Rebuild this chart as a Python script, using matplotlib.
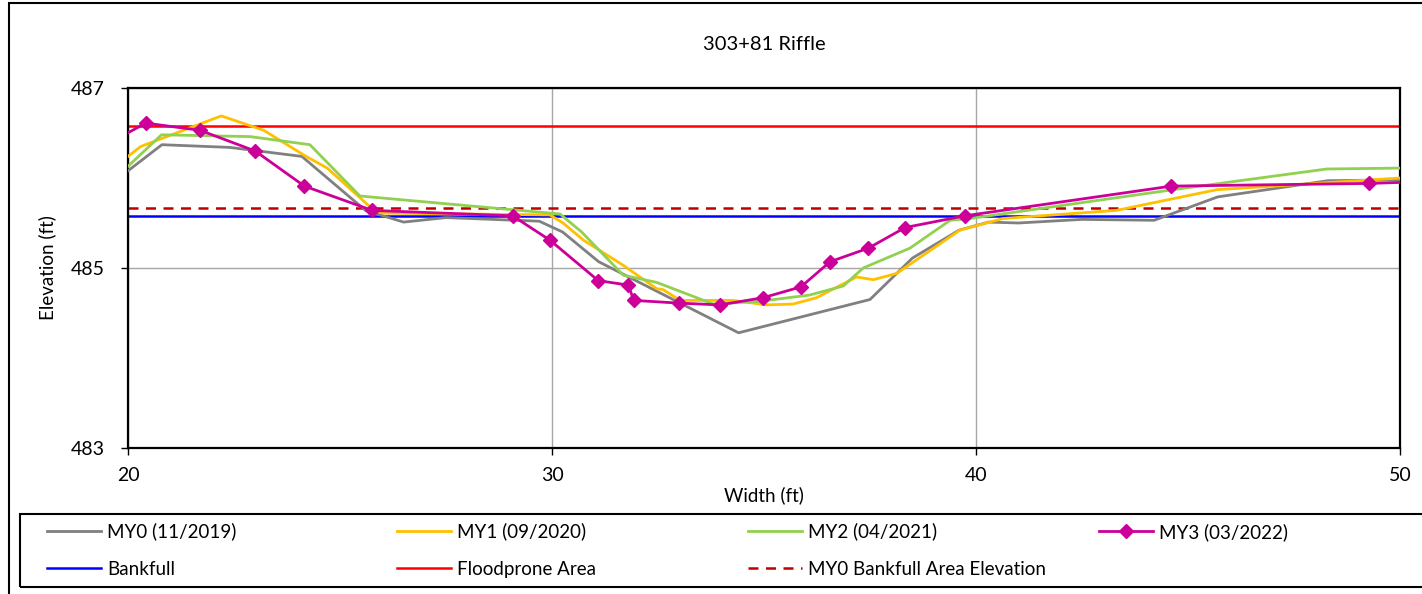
import matplotlib
matplotlib.use("Agg")
import matplotlib.pyplot as plt
import matplotlib.patches as patches

plt.rcParams['font.family'] = ['Lato', 'DejaVu Sans']

# survey data (width ft, elevation ft)
my0_x = [20.0, 20.8, 22.4, 24.1, 25.6, 26.5, 27.5, 29.7, 30.25, 31.1, 34.4, 37.5,
         38.5, 39.6, 40.3, 41.0, 42.5, 44.2, 45.7, 48.3, 50.0]
my0_y = [486.08, 486.37, 486.34, 486.24, 485.64, 485.51, 485.56, 485.52, 485.40, 485.07,
         484.28, 484.65, 485.11, 485.42, 485.51, 485.50, 485.54, 485.53, 485.79, 485.97, 485.98]

my1_x = [20.0, 20.3, 22.2, 23.2, 24.2, 24.7, 25.8, 26.0, 29.95, 30.26, 30.74, 31.68, 32.47,
         32.62, 33.02, 34.27, 35.06, 35.69, 36.24, 37.18, 37.58, 38.13, 39.62, 40.64, 43.31,
         45.68, 50.0]
my1_y = [486.24, 486.35, 486.69, 486.53, 486.24, 486.11, 485.64, 485.61, 485.59, 485.50,
         485.31, 485.03, 484.77, 484.76, 484.64, 484.64, 484.59, 484.60, 484.67, 484.90,
         484.87, 484.94, 485.42, 485.55, 485.64, 485.87, 486.00]

my2_x = [20.0, 20.79, 22.88, 24.29, 25.47, 30.19, 30.7, 31.68, 32.47, 33.8, 34.91, 36.08,
         36.87, 37.34, 38.44, 39.39, 39.86, 44.65, 48.27, 50.0]
my2_y = [486.13, 486.48, 486.46, 486.37, 485.80, 485.60, 485.40, 484.92, 484.84, 484.60,
         484.63, 484.70, 484.80, 485.00, 485.22, 485.53, 485.55, 485.87, 486.10, 486.11]

my3_x = [19.6, 20.42, 21.7, 23.0, 24.16, 25.76, 29.07, 29.95, 31.09, 31.8, 31.93, 32.99,
         33.96, 34.98, 35.87, 36.56, 37.46, 38.33, 39.74, 44.61, 49.28, 50.6]
my3_y = [486.40, 486.61, 486.53, 486.30, 485.91, 485.64, 485.58, 485.31, 484.86, 484.81,
         484.64, 484.61, 484.59, 484.67, 484.79, 485.07, 485.22, 485.45, 485.58, 485.91,
         485.94, 485.96]

bankfull = 485.58
floodprone = 486.58
my0_bkf = 485.67

W, H = 1422, 594
fig = plt.figure(figsize=(W / 100, H / 100), dpi=100)
ax = fig.add_axes([128 / W, 1 - 448 / H, (1400 - 128) / W, (448 - 88) / H])

lw = 2.0
ax.plot(my0_x, my0_y, color="#808080", lw=lw, label="MY0 (11/2019)", zorder=3)
ax.plot(my1_x, my1_y, color="#FFC000", lw=lw, label="MY1 (09/2020)", zorder=3)
ax.plot(my2_x, my2_y, color="#92D050", lw=lw, label="MY2 (04/2021)", zorder=3)
ax.plot(my3_x, my3_y, color="#CC0099", lw=lw, marker="D", markersize=7,
        label="MY3 (03/2022)", zorder=4)
ax.axhline(bankfull, color="#0000FF", lw=1.8, label="Bankfull", zorder=2)
ax.axhline(floodprone, color="#FF0000", lw=1.8, label="Floodprone Area", zorder=2)
ax.axhline(my0_bkf, color="#C00000", lw=1.8, ls=(0, (4, 3)),
           label="MY0 Bankfull Area Elevation", zorder=2)

ax.set_xlim(20, 50)
ax.set_ylim(483, 487)
ax.set_xticks([20, 30, 40, 50])
ax.set_yticks([483, 485, 487])
ax.grid(True, color="#A6A6A6", lw=1.0)
ax.set_axisbelow(True)
for s in ax.spines.values():
    s.set_color("black")
    s.set_linewidth(1.6)
ax.tick_params(direction="out", length=5, width=1, colors="black", labelsize=14)
ax.tick_params(axis="y", pad=12)
ax.tick_params(axis="x", pad=9)

fig.text(764 / W, 1 - 45 / H, "303+81 Riffle", ha="center", va="center", fontsize=14.5)
fig.text(47 / W, 1 - 268 / H, "Elevation (ft)", ha="center", va="center",
         rotation=90, fontsize=13.5)
fig.text(764 / W, 1 - 495 / H, "Width (ft)", ha="center", va="center", fontsize=13.5)

# legend: one frameless legend per column, rows read across
h, l = ax.get_legend_handles_labels()
columns = [[0, 4], [1, 5], [2, 6], [3]]
col_x = [47, 397, 748, 1099]
for idx, cx in zip(columns, col_x):
    cy = 550 if len(idx) == 2 else 532
    fig.legend([h[i] for i in idx], [l[i] for i in idx], loc="center left",
               bbox_to_anchor=(cx / W, 1 - cy / H), fontsize=13.5, frameon=False,
               handlelength=2.9, handletextpad=0.3, borderpad=0, borderaxespad=0,
               labelspacing=1.1)

fig.patches.append(patches.Rectangle((20 / W, 1 - 587 / H), 1.0, 73 / H,
                                     transform=fig.transFigure, fill=False,
                                     edgecolor="black", lw=1.5))

# outer chart border
fig.patches.append(patches.Rectangle((9 / W, -0.02), 1.0, (H - 3) / H + 0.02,
                                     transform=fig.transFigure, fill=False,
                                     edgecolor="black", lw=1.5))

fig.savefig("out.png", dpi=100)
